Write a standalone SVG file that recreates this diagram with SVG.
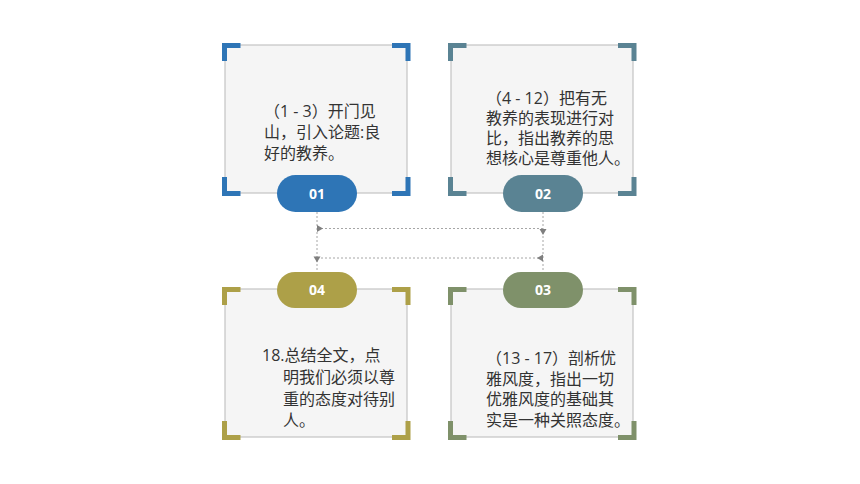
<svg xmlns="http://www.w3.org/2000/svg" width="860" height="484" viewBox="0 0 860 484">
<defs>
<style>
.box{fill:#f5f5f5;stroke:#c4c4c4;stroke-width:1.2}
.br{fill:none;stroke-width:5;stroke-linecap:butt;stroke-linejoin:miter}
.t{font-family:"Open Sans","Noto Sans CJK SC",sans-serif;font-size:16px;fill:#333333}
.pt{font-family:"Open Sans","Noto Sans",sans-serif;font-size:14px;font-weight:bold;fill:#ffffff;text-anchor:middle}
.ln{fill:none;stroke:#a6a6a6;stroke-width:1;stroke-dasharray:2 2}
.ah{fill:#7f7f7f}
</style>
<polygon id="tri" points="0,-3.5 6,0 0,3.5"/>
</defs>
<rect width="860" height="484" fill="#ffffff"/>

<g id="connectors">
<path class="ln" d="M317,212 V272"/>
<path class="ln" d="M543,212 V272"/>
<path class="ln" d="M317,228.5 H543"/>
<path class="ln" d="M317,258 H543"/>
<use href="#tri" class="ah" transform="translate(317,228.5)"/>
<use href="#tri" class="ah" transform="translate(543,229) rotate(90)"/>
<use href="#tri" class="ah" transform="translate(543,258) rotate(180)"/>
<use href="#tri" class="ah" transform="translate(317,256.5) rotate(90)"/>
</g>

<g id="node01">
<rect class="box" x="225" y="45" width="182" height="148"/>
<g class="br" stroke="#2e75b6">
<path d="M224.5,61 V45.5 H240.5"/>
<path d="M392,45.5 H408 V61"/>
<path d="M224.5,177 V193.5 H240.5"/>
<path d="M392,193.5 H408 V177"/>
</g>
<text class="t"><tspan x="264" y="117">（1 - 3）开门见</tspan><tspan x="264" y="138">山，引入论题:良</tspan><tspan x="264" y="159">好的教养。</tspan></text>
<rect x="277" y="175" width="80" height="37" rx="18.5" fill="#2e75b6"/>
<text class="pt" x="317" y="198.5">01</text>
</g>

<g id="node02">
<rect class="box" x="451" y="45" width="182" height="148"/>
<g class="br" stroke="#5a8393">
<path d="M450.5,61 V45.5 H466.5"/>
<path d="M618,45.5 H634 V61"/>
<path d="M450.5,177 V193.5 H466.5"/>
<path d="M618,193.5 H634 V177"/>
</g>
<text class="t"><tspan x="486" y="103.5">（4 - 12）把有无</tspan><tspan x="486" y="123.5">教养的表现进行对</tspan><tspan x="486" y="143.5">比，指出教养的思</tspan><tspan x="486" y="163.5">想核心是尊重他人。</tspan></text>
<rect x="503" y="175" width="80" height="37" rx="18.5" fill="#5a8393"/>
<text class="pt" x="543" y="198.5">02</text>
</g>

<g id="node03">
<rect class="box" x="451" y="289" width="182" height="148"/>
<g class="br" stroke="#7f916a">
<path d="M450.5,305 V289.5 H466.5"/>
<path d="M618,289.5 H634 V305"/>
<path d="M450.5,421 V437.5 H466.5"/>
<path d="M618,437.5 H634 V421"/>
</g>
<text class="t"><tspan x="486" y="364">（13 - 17）剖析优</tspan><tspan x="486" y="384.5">雅风度，指出一切</tspan><tspan x="486" y="405">优雅风度的基础其</tspan><tspan x="486" y="425.5">实是一种关照态度。</tspan></text>
<rect x="503" y="272" width="80" height="36" rx="18" fill="#7f916a"/>
<text class="pt" x="543" y="295">03</text>
</g>

<g id="node04">
<rect class="box" x="225" y="289" width="182" height="148"/>
<g class="br" stroke="#ada048">
<path d="M224.5,305 V289.5 H240.5"/>
<path d="M392,289.5 H408 V305"/>
<path d="M224.5,421 V437.5 H240.5"/>
<path d="M392,437.5 H408 V421"/>
</g>
<text class="t"><tspan x="262" y="361">18.总结全文，点</tspan><tspan x="283" y="383">明我们必须以尊</tspan><tspan x="283" y="404.5">重的态度对待别</tspan><tspan x="283" y="426">人。</tspan></text>
<rect x="277" y="272" width="80" height="36" rx="18" fill="#ada048"/>
<text class="pt" x="317" y="295">04</text>
</g>
</svg>
